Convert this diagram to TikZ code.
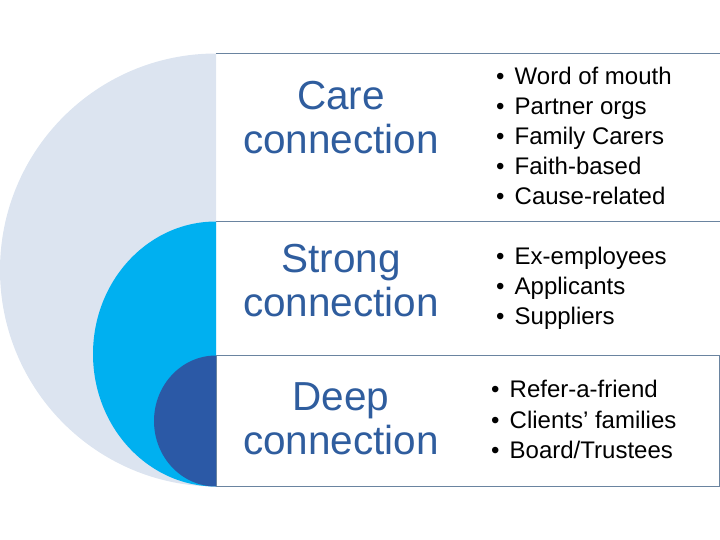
\documentclass[tikz,border=0pt]{standalone}
\usepackage{fontspec}
\setmainfont{Liberation Sans}
\usepackage{tikz}

\definecolor{carefill}{HTML}{DCE4F0}
\definecolor{strongfill}{HTML}{00B0F0}
\definecolor{deepfill}{HTML}{2B59A6}
\definecolor{headblue}{HTML}{2F5D9E}
\definecolor{rulecol}{HTML}{6A84A0}

\newcommand\itembullet{\makebox[18.5pt][l]{\textbullet}}

\begin{document}
\begin{tikzpicture}[x=1pt, y=-1pt,
                    rowbox/.style={minimum width=504pt, inner sep=0, outer sep=0},
                    rule/.style={draw=rulecol, line width=1pt},
                    heading/.style={align=center, inner sep=0, text=headblue,
                                    font=\fontsize{40.5}{44}\selectfont},
                    item/.style={anchor=base west, inner sep=0,
                                 font=\fontsize{24}{30}\selectfont}]
                \useasboundingbox (0,0) rectangle (720,540);

                % nested half discs
                \begin{scope}
                    \clip (0,0) rectangle (216,540);
                    \fill [carefill] (216,270) ellipse [x radius=216, y radius=216.5];
                    \fill [strongfill] (216,354) ellipse [x radius=123, y radius=132.5];
                    \fill [deepfill] (216,421) ellipse [x radius=62, y radius=65.5];
                \end{scope}

                % rows
                \node [rowbox, minimum height=168pt] (carebox) at (468,137.5) {};
                \node [rowbox, minimum height=134pt] (strongbox) at (468,288.5) {};
                \node [rowbox, minimum height=131pt, minimum width=503pt] (deepbox) at (467.5,421) {};
                \draw [rule] (carebox.north west) -- (carebox.north east);
                \draw [rule] (carebox.south west) -- (carebox.south east);
                \draw [rule] (deepbox.north west) rectangle (deepbox.south east);

                \node [heading] (care) at (341,117.5) {Care\\connection};
                \node [heading] (strong) at (341,281) {Strong\\connection};
                \node [heading] (deep) at (341,419) {Deep\\connection};

                \foreach \txt [count=\i from 0] in {Word of mouth, Partner orgs,
                        Family Carers, Faith-based, Cause-related}
                    \node [item] (care-\i) at (496,{85+30*\i}) {\itembullet\txt};
                \foreach \txt [count=\i from 0] in {Ex-employees, Applicants, Suppliers}
                    \node [item] (strong-\i) at (496,{264+30*\i}) {\itembullet\txt};
                \foreach \txt [count=\i from 0] in {Refer-a-friend, Clients’ families,
                        Board/Trustees}
                    \node [item] (deep-\i) at (491,{397.5+30.5*\i}) {\itembullet\txt};
            \end{tikzpicture}
\end{document}
